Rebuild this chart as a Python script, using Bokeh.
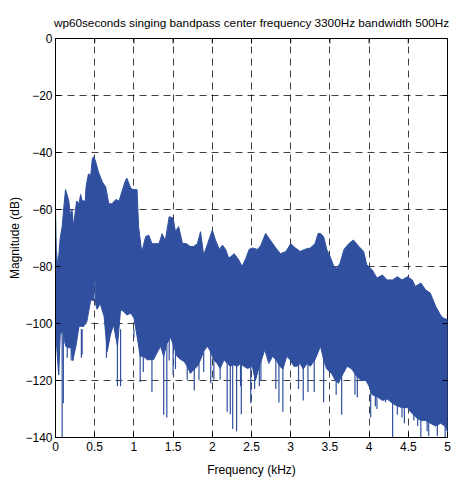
import math
from bokeh.plotting import figure
from bokeh.models import Range1d, FixedTicker
from bokeh.embed import file_html
from bokeh.resources import INLINE

# ---- data (frequency in kHz, magnitude in dB) ----
upper_f = [0.0, 0.01, 0.03, 0.06, 0.085, 0.11, 0.128, 0.15, 0.17, 0.19,
           0.21, 0.23, 0.255, 0.27, 0.3, 0.32, 0.34, 0.38, 0.39, 0.42,
           0.45, 0.47, 0.49, 0.51, 0.55, 0.6, 0.64, 0.68, 0.72, 0.77,
           0.81, 0.85, 0.89, 0.91, 0.96, 0.99, 1.04, 1.06, 1.1, 1.15,
           1.19, 1.23, 1.28, 1.32, 1.36, 1.4, 1.45, 1.5, 1.53, 1.57,
           1.62, 1.67, 1.72, 1.76, 1.81, 1.85, 1.89, 1.94, 2.0, 2.04,
           2.09, 2.13, 2.17, 2.21, 2.28, 2.34, 2.38, 2.43, 2.47, 2.51,
           2.58, 2.62, 2.68, 2.72, 2.77, 2.81, 2.87, 2.94, 3.0, 3.06,
           3.12, 3.19, 3.25, 3.31, 3.35, 3.38, 3.42, 3.46, 3.51, 3.55,
           3.59, 3.63, 3.68, 3.74, 3.8, 3.87, 3.93, 3.97, 4.04, 4.1,
           4.17, 4.23, 4.3, 4.36, 4.42, 4.49, 4.55, 4.59, 4.66, 4.72,
           4.78, 4.85, 4.91, 4.95, 5.0]
upper_db = [-60, -74, -80, -70, -66, -58, -53, -55, -57, -62,
            -60, -66, -60, -57, -58, -54.7, -57, -57, -52, -47.5,
            -48, -42, -41.5, -43, -47, -50.5, -52, -58, -58, -56.5,
            -57, -53.5, -50, -49, -52.5, -53, -53, -66, -75, -69.5,
            -69, -72, -72, -72, -68.5, -71, -62.5, -63, -67.7, -66,
            -71.9, -72, -73, -73, -72, -67.8, -76, -72, -67.2, -70.7,
            -74, -72.5, -74, -77.1, -75.5, -77.8, -80, -77, -74, -73.5,
            -74, -72.5, -68.4, -70, -71.9, -73.5, -75.5, -74.7, -72, -73.5,
            -74.7, -73.9, -73.5, -72, -68.4, -68.4, -69.5, -74, -77, -80,
            -80.6, -78.8, -74, -72, -70.7, -73, -74.7, -79.4, -81.2, -84,
            -83, -84.7, -84.7, -83.6, -84.7, -83.6, -84.7, -87, -85.8, -88.2,
            -89.3, -94, -97, -98.2, -98.6]

lower_f = [0.0, 0.02, 0.04, 0.06, 0.1, 0.13, 0.17, 0.2, 0.22, 0.26,
           0.3, 0.36, 0.4, 0.45, 0.49, 0.5, 0.51, 0.53, 0.57, 0.62,
           0.66, 0.7, 0.74, 0.79, 0.83, 0.87, 0.91, 0.96, 1.0, 1.04,
           1.08, 1.12, 1.17, 1.21, 1.25, 1.3, 1.34, 1.38, 1.42, 1.47,
           1.51, 1.55, 1.6, 1.64, 1.68, 1.72, 1.77, 1.81, 1.85, 1.89,
           1.94, 1.98, 2.02, 2.06, 2.1, 2.15, 2.19, 2.23, 2.27, 2.32,
           2.36, 2.4, 2.45, 2.51, 2.55, 2.6, 2.67, 2.72, 2.77, 2.82,
           2.86, 2.9, 2.95, 2.99, 3.04, 3.08, 3.12, 3.16, 3.21, 3.25,
           3.31, 3.38, 3.42, 3.46, 3.52, 3.57, 3.61, 3.65, 3.72, 3.78,
           3.84, 3.9, 3.96, 4.0, 4.04, 4.11, 4.17, 4.23, 4.3, 4.36,
           4.42, 4.49, 4.53, 4.6, 4.66, 4.72, 4.78, 4.85, 4.91, 4.97,
           5.0]
lower_db = [-102, -110, -118, -104, -102, -108, -108.5, -108.5, -113, -108,
            -101, -101, -99.3, -91.7, -92, -78, -93, -95, -93, -97.5,
            -109.8, -104, -100.4, -108, -95.2, -95.8, -97, -96.4, -98, -104.4,
            -111.5, -111.5, -112.7, -112.7, -112.7, -110, -108, -111.5, -107, -105,
            -108, -111.5, -112.7, -113.3, -115, -117.5, -116, -115, -112.7, -109.7,
            -108, -110, -112.7, -114, -115.8, -112.7, -114, -115, -114.5, -115,
            -114, -115, -115.8, -115, -120, -115, -109.2, -114, -111.5, -113,
            -115, -116, -111.5, -112.7, -115, -115, -114, -116, -114, -115,
            -112.7, -108, -112.7, -116, -117.5, -120, -121, -118.5, -115, -116,
            -118.5, -120, -120, -122, -125, -125.8, -127, -126.5, -128, -129,
            -129.5, -129.5, -131, -133, -134, -134, -135, -136, -135, -136,
            -138]

# thin downward spikes below the noise floor
spike_f = [0.04, 0.085, 0.1, 0.11, 0.15, 0.2, 0.22, 0.33, 0.34, 0.65,
           0.79, 0.83, 1.0, 1.08, 1.12, 1.23, 1.38, 1.42, 1.45, 1.5,
           1.53, 1.68, 1.77, 1.83, 1.89, 1.98, 2.02, 2.1, 2.19, 2.23,
           2.26, 2.31, 2.36, 2.37, 2.49, 2.54, 2.6, 2.62, 2.81, 2.85,
           2.9, 3.1, 3.16, 3.22, 3.3, 3.42, 3.58, 3.65, 3.82, 3.85,
           4.02, 4.08, 4.1, 4.21, 4.3, 4.36, 4.42, 4.45, 4.57, 4.62,
           4.66, 4.74, 4.76, 4.87, 4.97]
spike_db = [-118, -140, -128, -107, -112, -113, -113, -112, -111, -112,
            -122, -122, -105, -120.5, -117, -124, -132, -133, -113, -118,
            -116, -119.7, -123.5, -119.7, -117, -121, -119.7, -119.7, -131, -131.8,
            -137, -137.8, -122, -131.8, -128, -123, -122, -120, -123, -127.7,
            -131, -123, -127, -124, -124, -127.6, -125, -132, -125, -126,
            -133, -129, -130, -127.6, -140, -132, -133, -135, -134, -136,
            -140, -137.8, -139.5, -139.5, -140]

x_ticks = [0, 0.5, 1, 1.5, 2, 2.5, 3, 3.5, 4, 4.5, 5]
x_tick_labels = ["0", "0.5", "1", "1.5", "2", "2.5", "3", "3.5", "4", "4.5", "5"]
y_ticks = [0, -20, -40, -60, -80, -100, -120, -140]

title_text = "wp60seconds singing bandpass center frequency 3300Hz bandwidth 500Hz"
x_label = "Frequency (kHz)"
y_label = "Magnitude (dB)"

BLUE = "#30509f"
FONT = "Liberation Sans"

x_lo, x_hi = x_ticks[0], x_ticks[-1]
y_lo, y_hi = y_ticks[-1], y_ticks[0]

p = figure(width=451, height=479,
           x_range=Range1d(x_lo, x_hi), y_range=Range1d(y_lo, y_hi),
           output_backend="svg", toolbar_location=None,
           min_border_left=55, min_border_right=4, min_border_top=38,
           min_border_bottom=41, background_fill_color="white",
           border_fill_color="white")

p.title.text = title_text
p.title.align = "center"
p.title.text_font = FONT
p.title.text_font_size = "11.75px"
p.title.text_font_style = "normal"
p.title.text_color = "black"
p.title.standoff = 19

# filled spectrum
xs = upper_f + lower_f[::-1]
ys = upper_db + lower_db[::-1]
p.patch(xs, ys, fill_color=BLUE, line_color=BLUE, line_width=1)
p.segment(x0=spike_f, y0=[-102] * len(spike_f), x1=spike_f, y1=spike_db,
          line_color=BLUE, line_width=1.2)

# axes
for ax in (p.xaxis[0], p.yaxis[0]):
    ax.major_tick_in = 5
    ax.major_tick_out = 0
    ax.minor_tick_in = 0
    ax.minor_tick_out = 0
    ax.axis_line_color = "black"
    ax.major_tick_line_color = "black"
    ax.major_label_text_font = FONT
    ax.major_label_text_font_size = "12px"
    ax.major_label_text_color = "black"
    ax.axis_label_text_font = FONT
    ax.axis_label_text_font_size = "12px"
    ax.axis_label_text_font_style = "normal"
    ax.axis_label_text_color = "black"

p.xaxis[0].ticker = FixedTicker(ticks=x_ticks)
p.xaxis[0].major_label_overrides = {t: l for t, l in zip(x_ticks, x_tick_labels)}
p.xaxis[0].axis_label = x_label
p.xaxis[0].major_label_standoff = 4
p.xaxis[0].axis_label_standoff = 9
p.yaxis[0].ticker = FixedTicker(ticks=y_ticks)
p.yaxis[0].axis_label = y_label
p.yaxis[0].major_label_standoff = 3
p.yaxis[0].axis_label_standoff = 0

# mirrored inward tick marks on the top and right edges (clipped to the frame)
p.scatter(x=x_ticks, y=[y_hi] * len(x_ticks), marker="dash", angle=math.pi / 2,
          size=10, line_color="black", line_width=1)
p.scatter(x=[x_hi] * len(y_ticks), y=y_ticks, marker="dash",
          size=10, line_color="black", line_width=1)

p.grid.grid_line_color = "black"
p.grid.grid_line_alpha = 0.75
p.grid.grid_line_dash = "7 5"
p.grid.grid_line_width = 1
p.outline_line_color = "black"
p.outline_line_alpha = 1

open("out.html", "w").write(file_html(p, INLINE))
